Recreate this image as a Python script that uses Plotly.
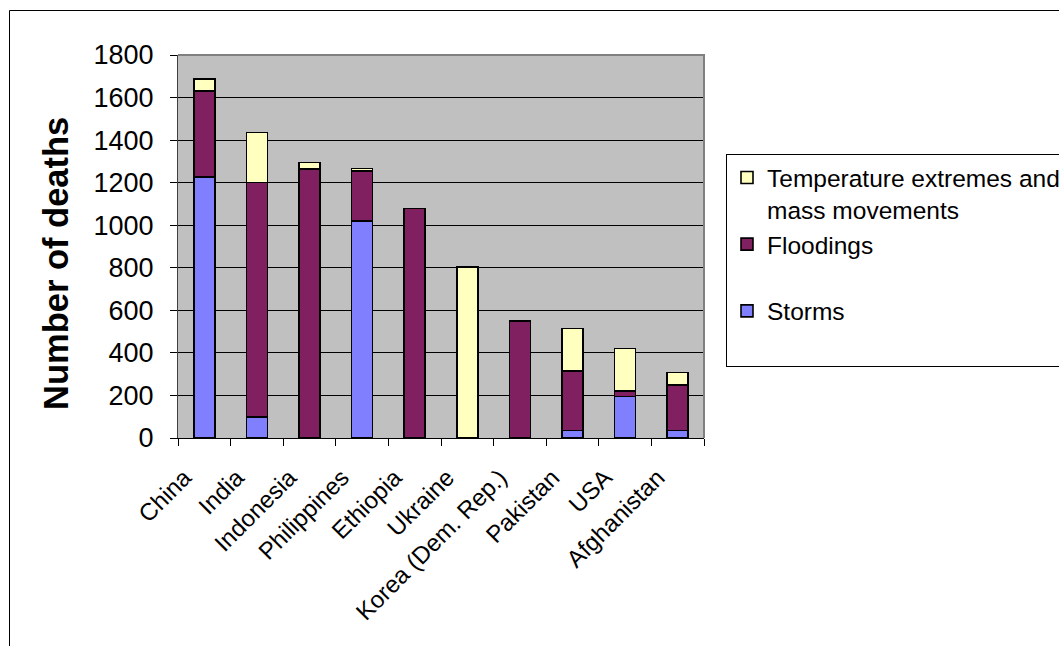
import plotly.graph_objects as go

countries = ["China", "India", "Indonesia", "Philippines", "Ethiopia", "Ukraine",
             "Korea (Dem. Rep.)", "Pakistan", "USA", "Afghanistan"]
storms = [1228, 100, 0, 1020, 0, 0, 0, 35, 195, 35]
floodings = [403, 1100, 1265, 235, 1078, 0, 551, 280, 27, 215]
temp_mass = [56, 235, 30, 12, 0, 805, 0, 200, 198, 58]

series_names = ["Storms", "Floodings", "Temperature extremes and<br>mass movements"]
series_colors = ["#8080FF", "#802060", "#FFFFC0"]
y_ticks = [0, 200, 400, 600, 800, 1000, 1200, 1400, 1600, 1800]

FONT = "Liberation Sans, Arial, sans-serif"

W, H = 1059, 646
L, R, T, B = 178, 704, 55, 438  # plot area pixel bounds


def px(x):
    return (x - L) / (R - L)


def py(y):
    return (B - y) / (B - T)


fig = go.Figure()
legend_names = ["Storms<br> ", "Floodings<br> ", series_names[2]]
for i, (name, vals, col) in enumerate(zip(legend_names, [storms, floodings, temp_mass], series_colors)):
    fig.add_trace(go.Bar(
        x=countries, y=vals, name=name, legendgroup=f"g{i}",
        marker=dict(color=col, line=dict(color="black", width=1.6)),
        width=0.4,
    ))

fig.update_layout(
    width=W, height=H,
    barmode="stack",
    paper_bgcolor="white",
    plot_bgcolor="#C0C0C0",
    margin=dict(l=L, r=W - R, t=T, b=H - B, pad=0, autoexpand=False),
    font=dict(family=FONT, color="black", size=23),
    showlegend=True,
    legend=dict(
        x=px(726), y=py(154), xanchor="left", yanchor="top",
        bordercolor="black", borderwidth=1, bgcolor="white",
        font=dict(size=24.5, family=FONT, color="black"),
        traceorder="reversed", valign="top",
        tracegroupgap=6,
    ),
    xaxis=dict(
        type="category",
        showline=True, linecolor="black", linewidth=1,
        ticks="outside", ticklen=7, tickcolor="black", tickwidth=1,
        tickson="boundaries",
        tickangle=-45,
        tickfont=dict(size=24, family=FONT, color="black"),
        ticklabelshift=-20,
        ticklabelstandoff=15,
        showgrid=False,
        automargin=False,
    ),
    yaxis=dict(
        range=[0, 1800],
        tickvals=y_ticks,
        showline=True, linecolor="#404040", linewidth=1,
        ticks="outside", ticklen=7, tickcolor="black", tickwidth=1,
        tickfont=dict(size=27, family=FONT, color="black"),
        ticklabelstandoff=11,
        showgrid=True, gridcolor="black", gridwidth=1,
        zeroline=False,
        automargin=False,
    ),
    annotations=[
        dict(
            text="<b>Number of deaths</b>", textangle=-90,
            x=px(56), y=py(264), xref="paper", yref="paper",
            xanchor="center", yanchor="middle", showarrow=False,
            font=dict(size=34.5, family=FONT, color="black"),
        )
    ],
    shapes=[
        # outer chart border
        dict(type="rect", xref="paper", yref="paper",
             x0=px(9.5), x1=px(1070), y0=py(10.5), y1=py(660),
             line=dict(color="black", width=1), layer="below"),
        # plot area border (top & right)
        dict(type="path", xref="paper", yref="paper",
             path="M 0 1 L 1 1 L 1 0",
             line=dict(color="#808080", width=2)),
    ],
)

fig.write_html(
    "out.html",
    config={"displayModeBar": False},
    post_script="document.body.style.margin='0';document.body.style.overflow='hidden';",
)
